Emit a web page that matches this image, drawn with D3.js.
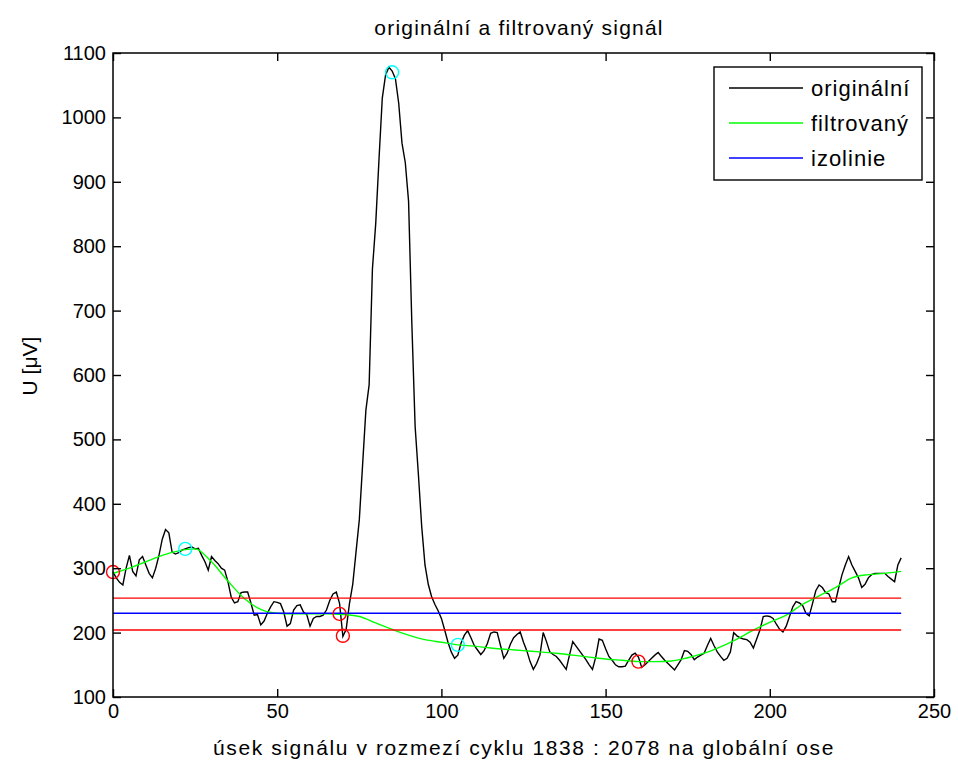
<!DOCTYPE html>
<html><head><meta charset="utf-8">
<script src="https://cdn.jsdelivr.net/npm/d3@7"></script>
<style>
html,body{margin:0;padding:0;background:#fff;}
text{font-family:"Liberation Sans",Arial,sans-serif;fill:#000;}
</style></head>
<body>
<svg id="chart" width="958" height="767"></svg>
<script>
// ---- data ----
const original = [294,285,278,274,300,320,295,288,313,318,305,292,285,300,320,345,360,355,325,322,
324,328,330,332,333,330,331,320,310,297,318,312,307,300,297,279,255,246,248,262,
263,263,246,227,228,212,218,230,240,248,247,245,232,210,214,235,242,243,232,228,
210,222,225,225,227,235,250,260,263,245,194,205,245,275,325,375,460,545,585,765,
835,935,1030,1066,1078,1072,1060,1022,960,930,870,680,520,445,365,305,275,256,244,234,
222,204,185,170,160,165,184,196,203,192,180,173,166,172,183,199,201,200,180,160,
168,182,192,197,201,185,172,155,143,152,165,200,186,170,166,163,157,150,143,165,
186,179,172,165,158,150,143,162,190,188,175,163,157,150,147,147,148,157,165,168,
162,146,150,155,160,165,169,163,157,152,147,142,150,158,172,171,166,158,162,165,
168,180,191,180,170,163,157,160,170,200,195,192,190,189,185,176,190,204,225,226,
225,222,213,205,201,210,225,240,248,246,242,230,226,245,265,274,270,262,260,248,
248,270,290,305,318,305,295,285,270,275,285,290,292,292,292,292,287,283,279,305,316];
const filteredX = [0,5,10,15,20,25,30,35,40,45,50,55,60,65,70,75,80,85,90,95,100,105,110,115,120,
125,130,135,140,145,150,155,160,165,170,175,180,185,190,195,200,205,210,215,220,225,230,235,240];
const filteredY = [292,300,310,320,327,330,310,280,253,236,230,229,229,229,228,225,215,205,196,189,185,181,179,176,174,
172,170,168,165,162,159,157,155,155,156,161,168,178,190,204,216,227,244,257,270,285,290,292,295];
const isoline = 230;
const bandUpper = 253.5;
const bandLower = 204;
const cyanX = [22, 85, 105];
const cyanY = [330, 1070, 181];
const redX = [0, 69, 70, 160];
const redY = [294, 229, 195, 155];
const xTicks = [0,50,100,150,200,250];
const yTicks = [100,200,300,400,500,600,700,800,900,1000,1100];
const legendLabels = ["originální","filtrovaný","izolinie"];
const legendColors = ["#000000","#00ff00","#0000ff"];
const titleText = "originální a filtrovaný signál";
const xLabel = "úsek signálu v rozmezí cyklu 1838 : 2078 na globální ose";
const yLabel = "U [μV]";

// ---- chart ----
const svg = d3.select("#chart");
const L=113, R=934, T=53, B=697;
const x = d3.scaleLinear().domain([0,250]).range([L,R]);
const y = d3.scaleLinear().domain([100,1100]).range([B,T]);
const FS = 20;
const SW = 1.4;

const plot = svg.append("g");
plot.append("rect").attr("x",L).attr("y",T).attr("width",R-L).attr("height",B-T).attr("fill","#fff");

// lines
const line = d3.line().x((d,i)=>x(i)).y(d=>y(d));
plot.append("path").datum(original).attr("d",line).attr("fill","none").attr("stroke","#000").attr("stroke-width",SW);
const fpts = filteredX.map((v,i)=>[v,filteredY[i]]);
plot.append("path").datum(fpts).attr("d",d3.line().x(d=>x(d[0])).y(d=>y(d[1])).curve(d3.curveMonotoneX))
  .attr("fill","none").attr("stroke","#00ff00").attr("stroke-width",SW);
const hl = (v,c)=>plot.append("line").attr("x1",x(0)).attr("x2",x(240)).attr("y1",y(v)).attr("y2",y(v)).attr("stroke",c).attr("stroke-width",SW);
hl(isoline,"#0000ff");
hl(bandUpper,"#ff0000");
hl(bandLower,"#ff0000");
plot.selectAll(".cy").data(cyanX).join("circle").attr("cx",d=>x(d)).attr("cy",(d,i)=>y(cyanY[i])).attr("r",6.5)
  .attr("fill","none").attr("stroke","#00ffff").attr("stroke-width",SW);
plot.selectAll(".rd").data(redX).join("circle").attr("cx",d=>x(d)).attr("cy",(d,i)=>y(redY[i])).attr("r",6.5)
  .attr("fill","none").attr("stroke","#ff0000").attr("stroke-width",SW);

// axes
const fmt = d3.format("d");
const ax = (g)=>{g.selectAll("path").remove(); g.selectAll("line").attr("stroke","#000").attr("stroke-width",SW); g.selectAll("text").attr("font-size",FS).attr("font-family","'Liberation Sans',Arial,sans-serif").attr("fill","#000");};
svg.append("g").attr("transform",`translate(0,${B})`).call(d3.axisBottom(x).tickValues(xTicks).tickFormat(fmt).tickSizeInner(-8).tickSizeOuter(0).tickPadding(7)).call(ax);
svg.append("g").attr("transform",`translate(0,${T})`).call(d3.axisTop(x).tickValues(xTicks).tickSizeInner(-8).tickSizeOuter(0).tickFormat("")).call(ax);
svg.append("g").attr("transform",`translate(${L},0)`).call(d3.axisLeft(y).tickValues(yTicks).tickFormat(fmt).tickSizeInner(-8).tickSizeOuter(0).tickPadding(7)).call(ax);
svg.append("g").attr("transform",`translate(${R},0)`).call(d3.axisRight(y).tickValues(yTicks).tickSizeInner(-8).tickSizeOuter(0).tickFormat("")).call(ax);
svg.append("rect").attr("x",L).attr("y",T).attr("width",R-L).attr("height",B-T).attr("fill","none").attr("stroke","#000").attr("stroke-width",1.5);

// legend
const lg = svg.append("g");
lg.append("rect").attr("x",714).attr("y",67).attr("width",208).attr("height",113).attr("fill","#fff").attr("stroke","#000").attr("stroke-width",SW);
legendLabels.forEach((lab,i)=>{
  const yy = 88 + i*35;
  lg.append("line").attr("x1",729).attr("x2",803).attr("y1",yy).attr("y2",yy).attr("stroke",legendColors[i]).attr("stroke-width",SW);
  lg.append("text").attr("x",811).attr("y",yy).attr("dy","0.35em").attr("font-size",22).attr("letter-spacing","1px").text(lab);
});

// titles
svg.append("text").attr("x",519).attr("y",28).attr("dy","0.35em").attr("text-anchor","middle").attr("font-size",21).attr("letter-spacing","1.2px").text(titleText);
svg.append("text").attr("x",524).attr("y",748).attr("dy","0.35em").attr("text-anchor","middle").attr("font-size",21).attr("letter-spacing","1.6px").text(xLabel);
svg.append("text").attr("transform","translate(30,366) rotate(-90)").attr("dy","0.35em").attr("text-anchor","middle").attr("font-size",21).text(yLabel);
</script>
</body></html>
